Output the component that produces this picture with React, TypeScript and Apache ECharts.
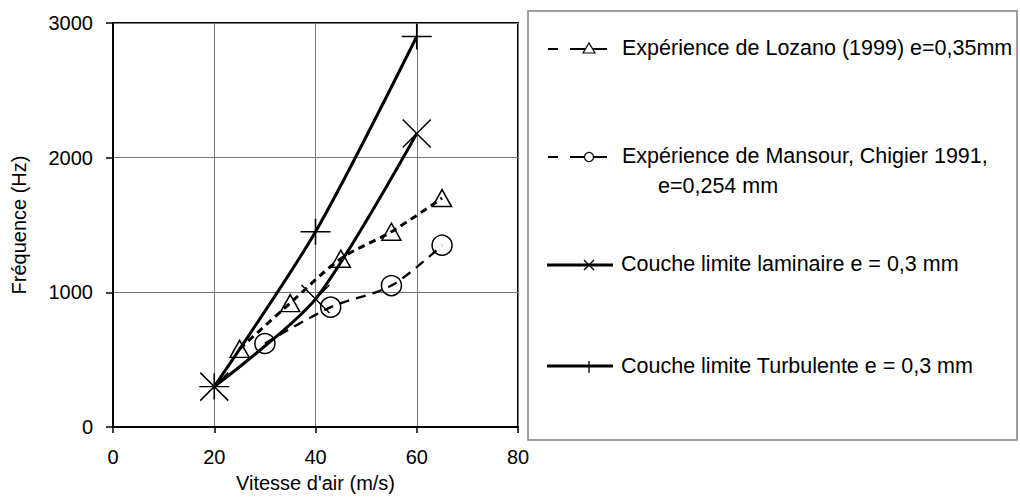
import React, { useEffect, useRef } from "react";
import * as echarts from "echarts";

const FONT = "'Liberation Sans', Arial, sans-serif";

const xTicks = [0, 20, 40, 60, 80];
const yTicks = [0, 1000, 2000, 3000];

const lozanoX = [25, 35, 45, 55, 65];
const lozanoY = [580, 920, 1250, 1450, 1700];

const mansourX = [30, 43, 55, 65];
const mansourY = [620, 890, 1050, 1350];

const laminarX = [20, 40, 60];
const laminarY = [300, 950, 2180];

const turbulentX = [20, 40, 60];
const turbulentY = [300, 1450, 2900];

const legendNames = [
  "Expérience de Lozano (1999) e=0,35mm",
  "Expérience de Mansour, Chigier 1991,",
  "e=0,254 mm",
  "Couche limite laminaire e = 0,3 mm",
  "Couche limite Turbulente e = 0,3 mm",
];

const zip = (xs: number[], ys: number[]) => xs.map((x, i) => [x, ys[i]]);

const hollow = { color: "rgba(0,0,0,0)", borderColor: "#000", borderWidth: 1.5 };

export default function App() {
  const ref = useRef<HTMLDivElement>(null);
  useEffect(() => {
    if (!ref.current) return;
    const chart = echarts.init(ref.current, undefined, { renderer: "svg" });
    const LF = `21.5px ${FONT}`;
    const option: any = {
      animation: false,
      backgroundColor: "#fff",
      grid: {
        left: 113,
        top: 23,
        right: 502,
        bottom: 74,
        show: true,
        borderColor: "#000",
        borderWidth: 2,
      },
      xAxis: {
        type: "value",
        min: xTicks[0],
        max: xTicks[xTicks.length - 1],
        interval: 20,
        name: "Vitesse d'air (m/s)",
        nameLocation: "middle",
        nameGap: 46,
        nameTextStyle: { fontFamily: FONT, fontSize: 20, color: "#000" },
        axisLine: { lineStyle: { color: "#000", width: 2 } },
        axisTick: { show: true, inside: false, length: 6, lineStyle: { color: "#000", width: 1.5 } },
        axisLabel: { fontFamily: FONT, fontSize: 20, color: "#000", margin: 20, formatter: (v: number) => String(v) },
        splitLine: { show: true, lineStyle: { color: "#777", width: 1 } },
      },
      yAxis: {
        type: "value",
        min: yTicks[0],
        max: yTicks[yTicks.length - 1],
        interval: 1000,
        name: "Fréquence (Hz)",
        nameLocation: "middle",
        nameGap: 84,
        nameRotate: 90,
        nameTextStyle: { fontFamily: FONT, fontSize: 20, color: "#000" },
        axisLine: { show: true, lineStyle: { color: "#000", width: 2 } },
        axisTick: { show: true, inside: false, length: 7, lineStyle: { color: "#000", width: 1.5 } },
        axisLabel: { fontFamily: FONT, fontSize: 20, color: "#000", margin: 20, formatter: (v: number) => String(v) },
        splitLine: { show: true, lineStyle: { color: "#777", width: 1 } },
      },
      series: [
        {
          name: legendNames[0],
          type: "line",
          smooth: 0.3,
          data: zip(lozanoX, lozanoY),
          symbol: "triangle",
          symbolSize: [19, 17],
          itemStyle: hollow,
          lineStyle: { color: "#000", width: 3, type: [7, 5] },
        },
        {
          name: legendNames[1],
          type: "line",
          smooth: 0.3,
          data: zip(mansourX, mansourY),
          symbol: "circle",
          symbolSize: 20,
          itemStyle: hollow,
          lineStyle: { color: "#000", width: 2.3, type: [10, 7] },
        },
        {
          name: legendNames[3],
          type: "line",
          smooth: 0.25,
          data: zip(laminarX, laminarY),
          symbol: "path://M0,0L20,20M20,0L0,20",
          symbolSize: 28,
          itemStyle: hollow,
          lineStyle: { color: "#000", width: 3 },
        },
        {
          name: legendNames[4],
          type: "line",
          smooth: 0.25,
          data: zip(turbulentX, turbulentY),
          symbol: "path://M10,0L10,20M0,10L20,10",
          symbolSize: [30, 26],
          itemStyle: hollow,
          lineStyle: { color: "#000", width: 3 },
        },
      ],
      graphic: [
        {
          type: "rect",
          shape: { x: 528, y: 11, width: 489, height: 429 },
          style: { fill: "none", stroke: "#808080", lineWidth: 1.5 },
        },
        // row 1
        { type: "line", shape: { x1: 548, y1: 49, x2: 558, y2: 49 }, style: { stroke: "#000", lineWidth: 2 } },
        { type: "line", shape: { x1: 570, y1: 49, x2: 607, y2: 49 }, style: { stroke: "#000", lineWidth: 2 } },
        {
          type: "polygon",
          shape: { points: [[589, 43], [583, 53], [595, 53]] },
          style: { fill: "#fff", stroke: "#000", lineWidth: 1.2 },
        },
        {
          type: "text",
          x: 622,
          y: 48,
          style: { text: legendNames[0], font: LF, fill: "#000", verticalAlign: "middle" },
        },
        // row 2
        { type: "line", shape: { x1: 548, y1: 157, x2: 558, y2: 157 }, style: { stroke: "#000", lineWidth: 2 } },
        { type: "line", shape: { x1: 570, y1: 157, x2: 607, y2: 157 }, style: { stroke: "#000", lineWidth: 2 } },
        {
          type: "circle",
          shape: { cx: 589, cy: 157, r: 4.5 },
          style: { fill: "#fff", stroke: "#000", lineWidth: 1.2 },
        },
        {
          type: "text",
          x: 622,
          y: 156,
          style: { text: legendNames[1], font: LF, fill: "#000", verticalAlign: "middle" },
        },
        {
          type: "text",
          x: 658,
          y: 186,
          style: { text: legendNames[2], font: LF, fill: "#000", verticalAlign: "middle" },
        },
        // row 3
        { type: "line", shape: { x1: 547, y1: 265, x2: 613, y2: 265 }, style: { stroke: "#000", lineWidth: 3 } },
        { type: "line", shape: { x1: 584, y1: 260, x2: 594, y2: 270 }, style: { stroke: "#000", lineWidth: 1.3 } },
        { type: "line", shape: { x1: 594, y1: 260, x2: 584, y2: 270 }, style: { stroke: "#000", lineWidth: 1.3 } },
        {
          type: "text",
          x: 621,
          y: 264,
          style: { text: legendNames[3], font: LF, fill: "#000", verticalAlign: "middle" },
        },
        // row 4
        { type: "line", shape: { x1: 547, y1: 366, x2: 613, y2: 366 }, style: { stroke: "#000", lineWidth: 3 } },
        { type: "line", shape: { x1: 589, y1: 361, x2: 589, y2: 373 }, style: { stroke: "#000", lineWidth: 1.3 } },
        {
          type: "text",
          x: 621,
          y: 366,
          style: { text: legendNames[4], font: LF, fill: "#000", verticalAlign: "middle" },
        },
      ],
    };
    chart.setOption(option);
    return () => chart.dispose();
  }, []);
  return (
    <div
      ref={ref}
      style={{ width: 1020, height: 501, position: "absolute", left: 0, top: 0 }}
    />
  );
}
